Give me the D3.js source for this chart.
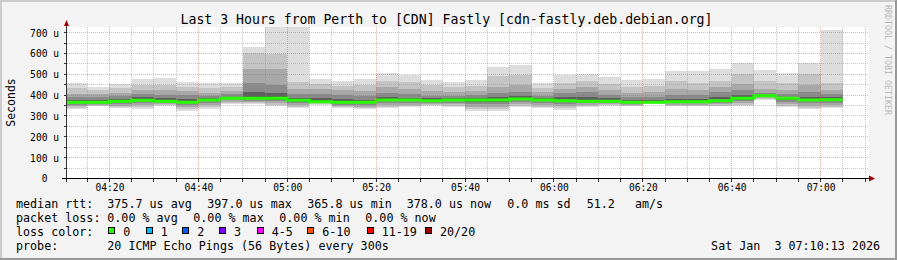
<!DOCTYPE html>
<html lang="en">
<head>
<meta charset="UTF-8">
<title>Last 3 Hours from Perth to [CDN] Fastly</title>
<style>
  body { margin: 0; background: #f3f3f3; }
  svg { display: block; font-family: "DejaVu Sans Mono", monospace; }
  text { white-space: pre; }
</style>
</head>
<body>
<svg id="chart" width="897" height="260"></svg>
<script src="https://cdnjs.cloudflare.com/ajax/libs/d3/7.8.5/d3.min.js"></script>
<script>
// one bar per 5 minute step (start time of the step)
const times = ["04:10","04:15","04:20","04:25","04:30","04:35","04:40","04:45","04:50","04:55",
               "05:00","05:05","05:10","05:15","05:20","05:25","05:30","05:35","05:40","05:45",
               "05:50","05:55","06:00","06:05","06:10","06:15","06:20","06:25","06:30","06:35",
               "06:40","06:45","06:50","06:55","07:00"];

// smoke: sorted ping ranks, microseconds
const ping20 = [457,438,453,477,481,462,457,457,630,730,730,477,467,477,504,496,472,461,472,536,545,456,496,500,486,472,477,515,515,525,553,520,505,553,712];
const ping18 = [432,423,432,448,448,440,435,440,600,597,464,455,445,450,470,465,450,440,445,490,495,435,460,470,455,440,445,470,460,470,500,470,460,500,460];
const ping16 = [405,405,410,427,423,420,412,420,525,525,430,430,425,420,440,430,420,415,420,440,450,415,430,440,425,410,415,430,425,440,455,430,425,450,425];
const ping14 = [390,392,395,405,400,400,398,405,460,450,405,405,400,395,410,405,398,398,400,410,415,398,410,415,400,390,392,400,400,415,425,412,405,415,405];
const ping12 = [378,378,382,390,385,380,386,393,415,410,388,385,380,378,390,388,384,386,386,390,395,386,390,390,384,377,378,382,382,392,400,402,392,392,390];
const median = [366,366,371,376,371,366,377,385,385,385,376,368,366,366,377,377,373,377,377,377,382,377,373,371,371,366,366,368,368,373,385,397,385,377,378];
const ping9  = [360,362,365,370,366,360,370,380,380,378,368,365,360,360,370,370,368,370,368,368,375,370,365,366,366,362,364,364,364,368,378,393,378,370,370];
const ping7  = [355,358,358,362,361,352,362,375,374,370,360,362,353,352,362,362,363,363,358,358,366,362,356,360,361,358,362,360,360,362,370,389,368,360,362];
const ping5  = [348,354,350,352,356,342,352,368,368,362,352,360,347,345,352,354,358,356,345,345,357,352,346,353,356,354,360,355,355,356,362,385,357,350,352];
const ping3  = [340,350,342,342,351,332,342,362,362,354,344,357,342,338,344,346,354,350,333,333,348,343,336,346,351,350,358,350,350,350,355,382,348,340,343];
const ping1  = [333,347,336,333,347,323,333,357,357,347,338,355,339,334,339,341,350,345,325,325,341,336,328,341,347,347,357,347,347,347,350,379,341,333,336];

const yTicks = [0,100,200,300,400,500,600,700];

const rttValues = [375.7, 397.0, 365.8, 378.0];
const rttNames  = ["avg","max","min","now"];
const lossValues = [0, 0, 0, 0];
const lossNames  = ["avg","max","min","now"];
const sdValue = 0.0;
const amValue = 51.2;

const lossLabels = ["0","1","2","3","4-5","6-10","11-19","20/20"];
const lossColors = ["#26ff00","#00b8ff","#0059ff","#7e00ff","#ff00ff","#ff5500","#ff0000","#a10000"];

// ---- layout ----
const W = 897, H = 260;
const pL = 66, pR = 866, pT = 27, pB = 178.5;
const parse = d3.timeParse("%H:%M:%S");
const t0 = parse("04:10:13"), t1 = parse("07:10:13");
const step = 5 * 60 * 1000;
const tms = times.map(s => parse(s + ":00"));

const x = d3.scaleTime().domain([t0, t1]).range([pL, pR]);
const y = d3.scaleLinear().domain([0, 727]).range([pB, pT]);
const px = v => Math.round(v - 0.5) + 0.5;

const svg = d3.select("#chart");

// background and frame shading
svg.append("rect").attr("width", W).attr("height", H).attr("fill", "#f3f3f3");
svg.append("path").attr("d", `M0,1H${W}M1,0V${H}`).attr("stroke", "#cbcbcb").attr("stroke-width", 2);
svg.append("path").attr("d", `M0,${H-1}H${W}M${W-1},0V${H}`).attr("stroke", "#999999").attr("stroke-width", 2);

// canvas
svg.append("rect").attr("x", pL + 1).attr("y", pT).attr("width", pR - pL + 2).attr("height", pB - pT)
  .attr("fill", "#ffffff");

svg.append("clipPath").attr("id", "plotclip").append("rect")
  .attr("x", pL + 1).attr("y", pT).attr("width", pR - pL).attr("height", pB - pT - 0.5);

const plot = svg.append("g").attr("clip-path", "url(#plotclip)");

// smoke bands, outer to inner
const bands = [
  [ping20, ping1, "#dddddd"],
  [ping18, ping3, "#c4c4c4"],
  [ping16, ping5, "#a8a8a8"],
  [ping14, ping7, "#8a8a8a"],
  [ping12, ping9, "#5e5e5e"]
];
bands.forEach(([hi, lo, col]) => {
  plot.append("g").selectAll("rect")
    .data(tms)
    .join("rect")
    .attr("x", d => x(d))
    .attr("width", d => x(new Date(+d + step)) - x(d))
    .attr("y", (d, i) => Math.round(y(hi[i])))
    .attr("height", (d, i) => Math.round(y(lo[i])) - Math.round(y(hi[i])))
    .attr("fill", col)
    .attr("shape-rendering", "crispEdges");
});

// grid
const grid = svg.append("g").attr("fill", "none").attr("stroke-dasharray", "1,1").attr("shape-rendering", "crispEdges");
const minorY = d3.range(50, 727, 50).filter(v => v % 100 !== 0);
grid.selectAll(".gy").data(minorY).join("line")
  .attr("x1", pL + 1).attr("x2", pR + 2).attr("y1", d => px(y(d))).attr("y2", d => px(y(d)))
  .attr("stroke", "rgba(143,143,143,0.5)");
const minorX = d3.timeMinute.every(5).range(t0, t1).filter(d => d.getMinutes() % 20 !== 0);
grid.selectAll(".gx").data(minorX).join("line")
  .attr("x1", d => px(x(d))).attr("x2", d => px(x(d))).attr("y1", pT).attr("y2", pB)
  .attr("stroke", "rgba(143,143,143,0.5)");
grid.selectAll(".my").data(yTicks.slice(1)).join("line")
  .attr("x1", pL + 1).attr("x2", pR + 2).attr("y1", d => px(y(d))).attr("y2", d => px(y(d)))
  .attr("stroke", "rgba(222,80,57,0.45)");
const majorX = d3.timeMinute.every(20).range(t0, t1);
grid.selectAll(".mx").data(majorX).join("line")
  .attr("x1", d => px(x(d))).attr("x2", d => px(x(d))).attr("y1", pT).attr("y2", pB)
  .attr("stroke", "rgba(222,80,57,0.45)");

// median line
const medPts = tms.map((d, i) => [d, median[i]]);
medPts.push([new Date(+tms[tms.length - 1] + step), median[median.length - 1]]);
plot.append("path")
  .datum(medPts)
  .attr("d", d3.line().x(d => x(d[0])).y(d => y(d[1])).curve(d3.curveStepAfter))
  .attr("fill", "none")
  .attr("stroke", lossColors[0])
  .attr("stroke-width", 3);

// axes
const axisCol = "#333333";
const yAxis = svg.append("g")
  .attr("transform", `translate(${pL + 0.5},0)`)
  .call(d3.axisLeft(y).tickValues(yTicks).tickSize(0).tickPadding(7.5)
    .tickFormat(v => v === 0 ? "0  " : v + " u"));
yAxis.select(".domain").remove();
yAxis.selectAll("text").attr("font-family", "DejaVu Sans Mono").attr("font-size", 9.6)
  .attr("fill", "#000").attr("dy", "0.36em");

const xAxis = svg.append("g")
  .attr("transform", `translate(0,${pB})`)
  .call(d3.axisBottom(x).tickValues(majorX).tickSize(0).tickPadding(6)
    .tickFormat(d3.timeFormat("%H:%M")));
xAxis.select(".domain").remove();
xAxis.selectAll("text").attr("font-family", "DejaVu Sans Mono").attr("font-size", 9.6)
  .attr("fill", "#000").attr("dy", "0.71em");

// tick marks
svg.append("g").selectAll("line").data(d3.timeMinute.every(5).range(t0, t1)).join("line")
  .attr("x1", d => px(x(d))).attr("x2", d => px(x(d))).attr("y1", pB).attr("y2", pB + 3)
  .attr("stroke", axisCol).attr("shape-rendering", "crispEdges");
svg.append("g").selectAll("line").data(d3.range(0, 727, 50)).join("line")
  .attr("x1", pL - 2).attr("x2", pL + 1).attr("y1", d => px(y(d))).attr("y2", d => px(y(d)))
  .attr("stroke", axisCol).attr("shape-rendering", "crispEdges");

svg.append("line").attr("x1", pL + 0.5).attr("x2", pL + 0.5).attr("y1", pB + 3).attr("y2", pT - 3)
  .attr("stroke", axisCol).attr("shape-rendering", "crispEdges");
svg.append("line").attr("x1", pL - 4).attr("x2", pR + 4).attr("y1", pB).attr("y2", pB)
  .attr("stroke", "#000").attr("shape-rendering", "crispEdges");
svg.append("path").attr("d", `M${pL - 2},${pT - 1}L${pL + 0.5},${pT - 7}L${pL + 3},${pT - 1}Z`).attr("fill", "#a00000");
svg.append("path").attr("d", `M${pR + 3},${pB - 3}L${pR + 9},${pB}L${pR + 3},${pB + 3}Z`).attr("fill", "#a00000");

// titles
svg.append("text").attr("x", 446.5).attr("y", 24).attr("text-anchor", "middle").attr("font-size", 13.2)
  .text("Last 3 Hours from Perth to [CDN] Fastly [cdn-fastly.deb.debian.org]");
svg.append("text").attr("transform", "translate(15,102.5) rotate(-90)").attr("text-anchor", "middle")
  .attr("font-size", 11.5).text("Seconds");
svg.append("text").attr("transform", "translate(885,5) rotate(90)").attr("font-size", 8.3)
  .attr("fill", "#b8b8b8").text("RRDTOOL / TOBI OETIKER");

// legend
const fs = 11.7, lx = 16;
const rows = [208, 222, 236, 250];
const leg = svg.append("g").attr("font-size", fs).attr("fill", "#000");
leg.append("text").attr("x", lx).attr("y", rows[0]).text("median rtt:");
const rttX = [107.3, 207.3, 307.3, 406.7];
rttValues.forEach((v, i) => leg.append("text").attr("x", rttX[i]).attr("y", rows[0])
  .text(`${v.toFixed(1)} us ${rttNames[i]}`));
leg.append("text").attr("x", 507.3).attr("y", rows[0]).text(`${sdValue.toFixed(1)} ms sd`);
leg.append("text").attr("x", 586.7).attr("y", rows[0]).text(amValue.toFixed(1));
leg.append("text").attr("x", 635).attr("y", rows[0]).text("am/s");

leg.append("text").attr("x", lx).attr("y", rows[1]).text("packet loss:");
const lossX = [107.3, 193.3, 279.3, 365.3];
lossValues.forEach((v, i) => leg.append("text").attr("x", lossX[i]).attr("y", rows[1])
  .text(`${v.toFixed(2)} % ${lossNames[i]}`));

leg.append("text").attr("x", lx).attr("y", rows[2]).text("loss color:");
const boxX = [108.3, 145.7, 182.3, 219, 256.7, 307.3, 366.7, 425];
lossLabels.forEach((lab, i) => {
  leg.append("rect").attr("x", Math.round(boxX[i]) + 0.5).attr("y", 227.5).attr("width", 6).attr("height", 6)
    .attr("fill", lossColors[i]).attr("stroke", "#000");
  leg.append("text").attr("x", boxX[i] + 15).attr("y", rows[2]).text(lab);
});

leg.append("text").attr("x", lx).attr("y", rows[3]).text("probe:");
leg.append("text").attr("x", 107.3).attr("y", rows[3]).text("20 ICMP Echo Pings (56 Bytes) every 300s");
leg.append("text").attr("x", 880).attr("y", rows[3]).attr("text-anchor", "end").text("Sat Jan  3 07:10:13 2026");
</script>
</body>
</html>
